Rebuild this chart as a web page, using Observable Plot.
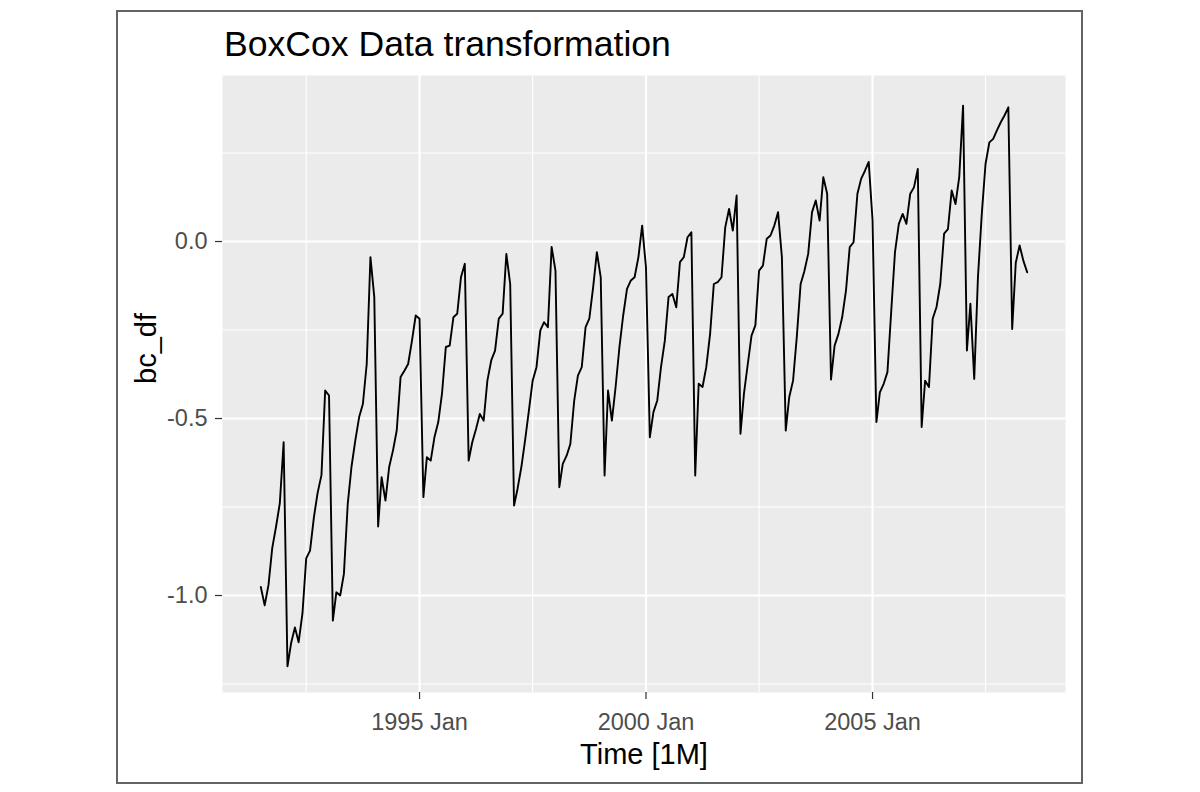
<!DOCTYPE html>
<html>
<head>
<meta charset="utf-8">
<script src="https://cdn.jsdelivr.net/npm/d3@7"></script>
<script src="https://cdn.jsdelivr.net/npm/@observablehq/plot@0.6"></script>
<style>
  html, body { margin: 0; padding: 0; background: #ffffff; }
  body { width: 1200px; height: 792px; overflow: hidden; position: relative;
         font-family: "Liberation Sans", Arial, sans-serif; }
  #frame { position: absolute; left: 116px; top: 10px; width: 963px; height: 770px;
           border: 2px solid #646464; box-sizing: content-box; }
  #title { position: absolute; left: 224px; top: 27px; font-size: 35.6px; line-height: 35px;
           color: #000000; white-space: nowrap; }
  #chart { position: absolute; left: 119px; top: 60px; }
</style>
</head>
<body>
<div id="frame"></div>
<div id="title">BoxCox Data transformation</div>
<div id="chart"></div>
<script>
// Monthly values of bc_df (Jul 1991 – Jun 2008)
const bc1991 = [-0.976, -1.028, -0.970, -0.866, -0.805, -0.740]; // Jul–Dec
const bc1992 = [-0.567, -1.200, -1.135, -1.090, -1.132, -1.050, -0.895, -0.873, -0.779, -0.710, -0.660, -0.421];
const bc1993 = [-0.435, -1.071, -0.991, -1.000, -0.939, -0.741, -0.637, -0.562, -0.496, -0.459, -0.346, -0.044];
const bc1994 = [-0.157, -0.805, -0.666, -0.732, -0.637, -0.590, -0.534, -0.383, -0.365, -0.346, -0.280, -0.209];
const bc1995 = [-0.218, -0.722, -0.609, -0.619, -0.553, -0.510, -0.430, -0.298, -0.294, -0.214, -0.204, -0.101];
const bc1996 = [-0.063, -0.619, -0.567, -0.529, -0.487, -0.506, -0.393, -0.336, -0.308, -0.218, -0.204, -0.035];
const bc1997 = [-0.120, -0.746, -0.699, -0.637, -0.562, -0.477, -0.393, -0.355, -0.251, -0.228, -0.242, -0.015];
const bc1998 = [-0.082, -0.694, -0.628, -0.605, -0.572, -0.450, -0.379, -0.355, -0.242, -0.218, -0.129, -0.030];
const bc1999 = [-0.101, -0.661, -0.421, -0.506, -0.411, -0.298, -0.209, -0.134, -0.110, -0.101, -0.044, 0.045];
const bc2000 = [-0.073, -0.553, -0.482, -0.449, -0.355, -0.280, -0.157, -0.148, -0.186, -0.058, -0.044, 0.012];
const bc2001 = [0.026, -0.661, -0.402, -0.411, -0.355, -0.261, -0.120, -0.115, -0.101, 0.040, 0.092, 0.031];
const bc2002 = [0.130, -0.543, -0.430, -0.346, -0.266, -0.237, -0.082, -0.068, 0.008, 0.017, 0.045, 0.083];
const bc2003 = [-0.044, -0.534, -0.440, -0.393, -0.270, -0.120, -0.084, -0.035, 0.083, 0.116, 0.059, 0.182];
const bc2004 = [0.135, -0.390, -0.294, -0.261, -0.214, -0.138, -0.016, -0.002, 0.135, 0.177, 0.200, 0.225];
const bc2005 = [0.060, -0.510, -0.426, -0.402, -0.369, -0.195, -0.030, 0.050, 0.078, 0.050, 0.135, 0.153];
const bc2006 = [0.205, -0.524, -0.393, -0.411, -0.218, -0.185, -0.120, 0.022, 0.035, 0.144, 0.106, 0.182];
const bc2007 = [0.384, -0.308, -0.176, -0.388, -0.101, 0.078, 0.219, 0.280, 0.290, 0.314, 0.337, 0.356];
const bc2008 = [0.379, -0.247, -0.060, -0.011, -0.054, -0.087]; // Jan–Jun

// Axis ticks
const yMajor = [-1.0, -0.5, 0.0];
const yMinor = [-1.25, -0.75, -0.25, 0.25];
const xMajorYears = [1995, 2000, 2005];
const xMinorYears = [1992, 1997, 2002, 2007]; // July gridlines

const values = [].concat(bc1991, bc1992, bc1993, bc1994, bc1995, bc1996, bc1997, bc1998,
  bc1999, bc2000, bc2001, bc2002, bc2003, bc2004, bc2005, bc2006, bc2007, bc2008);
const data = values.map((v, i) => ({date: new Date(Date.UTC(1991, 6 + i, 1)), value: v}));

const t0 = data[0].date.getTime();
const t1 = data[data.length - 1].date.getTime();
const pad = (t1 - t0) * 0.05;
const xDomain = [new Date(t0 - pad), new Date(t1 + pad)];

const xMajor = xMajorYears.map(y => new Date(Date.UTC(y, 0, 1)));
const xMinor = xMinorYears.map(y => new Date(Date.UTC(y, 6, 1)));

const chart = Plot.plot({
  width: 960,
  height: 720,
  marginTop: 15,
  marginBottom: 88,
  marginLeft: 103,
  marginRight: 14,
  style: {fontFamily: "'Liberation Sans', Arial, sans-serif", background: "transparent", overflow: "visible"},
  x: {type: "utc", domain: xDomain},
  y: {domain: [-1.274, 0.469]},
  marks: [
    Plot.frame({fill: "#EBEBEB", stroke: null}),
    Plot.ruleY(yMinor, {stroke: "#ffffff", strokeWidth: 1.1}),
    Plot.ruleX(xMinor, {stroke: "#ffffff", strokeWidth: 1.1}),
    Plot.ruleY(yMajor, {stroke: "#ffffff", strokeWidth: 2.2}),
    Plot.ruleX(xMajor, {stroke: "#ffffff", strokeWidth: 2.2}),
    Plot.line(data, {x: "date", y: "value", stroke: "#000000", strokeWidth: 1.9, strokeLinejoin: "round"}),
    Plot.axisX({
      ticks: xMajor,
      tickFormat: d => `${d.getUTCFullYear()} Jan`,
      tickSize: 7,
      tickPadding: 14,
      stroke: "#333333",
      strokeWidth: 1.2,
      fill: "#4D4D4D",
      fontSize: 23.5,
      label: null
    }),
    Plot.axisY({
      ticks: yMajor,
      tickFormat: d => d.toFixed(1),
      tickSize: 7,
      tickPadding: 8,
      stroke: "#333333",
      strokeWidth: 1.2,
      fill: "#4D4D4D",
      fontSize: 23.5,
      label: null
    }),
    Plot.text(["bc_df"], {text: d => d, frameAnchor: "left", dx: -76, rotate: -90,
      fontSize: 29, fill: "#000000", lineAnchor: "middle"}),
    Plot.text(["Time [1M]"], {text: d => d, frameAnchor: "bottom", dy: 62,
      fontSize: 29, fill: "#000000", lineAnchor: "middle"})
  ]
});
document.getElementById("chart").appendChild(chart);
</script>
</body>
</html>
